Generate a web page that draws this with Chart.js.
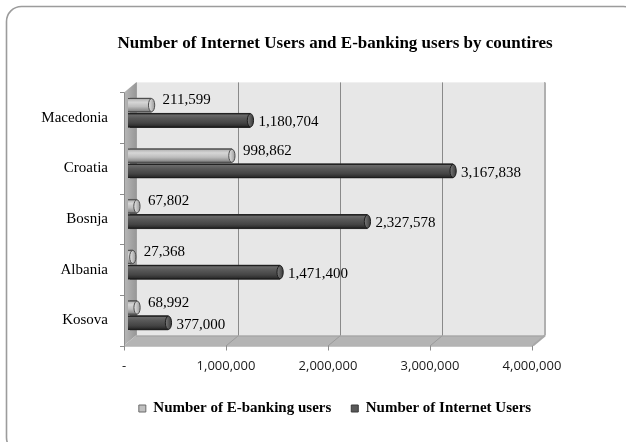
<!DOCTYPE html>
<html>
<head>
<meta charset="utf-8">
<script src="https://cdn.jsdelivr.net/npm/chart.js@4.4.1/dist/chart.umd.min.js"></script>
<style>
  html, body { margin: 0; padding: 0; background: #fff; }
</style>
</head>
<body>
<canvas id="users-chart" width="626" height="442"></canvas>
<script>
const countries = ['Macedonia', 'Croatia', 'Bosnja', 'Albania', 'Kosova'];
const ebankingUsers = [211599, 998862, 67802, 27368, 68992];
const internetUsers = [1180704, 3167838, 2327578, 1471400, 377000];
const axisTicks = [0, 1000000, 2000000, 3000000, 4000000];

// depth of the fake 3D box: front plane = bars - (DX, -DY), back wall = bars + (DX, -DY)
const DX = 6;
const DY = 5;

const CAT_FONT = '15px "Liberation Serif", serif';
const fmt = v => v.toLocaleString('en-US');

// category labels are mirrored so they are not clipped to the axis box;
// push them back left of the plot by the widest label
function widestLabel(font) {
  const c = document.createElement('canvas').getContext('2d');
  c.font = font;
  return Math.max(...countries.map(t => c.measureText(t).width));
}
const catWidest = widestLabel(CAT_FONT);

const SHADES = [
  { // light cylinders
    body: [[0, '#5e5e5e'], [0.1, '#b8b8b8'], [0.3, '#d6d6d6'], [0.6, '#bdbdbd'], [0.88, '#8c8c8c'], [1, '#505050']],
    cap: ['#e6e6e6', '#9a9a9a'],
    edge: '#4e4e4e',
    label: { dx: 11, dy: -5 }
  },
  { // dark cylinders
    body: [[0, '#262626'], [0.12, '#6a6a6a'], [0.35, '#585858'], [0.7, '#444444'], [0.9, '#2e2e2e'], [1, '#1c1c1c']],
    cap: ['#7a7a7a', '#3a3a3a'],
    edge: '#1e1e1e',
    label: { dx: 8, dy: 2 }
  }
];

function poly(ctx, pts, fill) {
  ctx.beginPath();
  ctx.moveTo(pts[0][0], pts[0][1]);
  for (let i = 1; i < pts.length; i++) ctx.lineTo(pts[i][0], pts[i][1]);
  ctx.closePath();
  ctx.fillStyle = fill;
  ctx.fill();
}

function line(ctx, x1, y1, x2, y2, color) {
  ctx.beginPath();
  ctx.moveTo(x1, y1);
  ctx.lineTo(x2, y2);
  ctx.strokeStyle = color;
  ctx.stroke();
}

const framePlugin = {
  id: 'frame',
  beforeDraw(chart) {
    const ctx = chart.ctx;
    ctx.save();
    ctx.fillStyle = '#fff';
    ctx.fillRect(0, 0, chart.width, chart.height);
    ctx.strokeStyle = '#9c9c9c';
    ctx.lineWidth = 1.6;
    ctx.beginPath();
    ctx.roundRect(6.5, 6.5, 632, 446, 15);
    ctx.stroke();
    ctx.restore();
  }
};

const boxPlugin = {
  id: 'box3d',
  beforeDatasetsDraw(chart) {
    const ctx = chart.ctx;
    const xs = chart.scales.x;
    const { top, bottom } = chart.chartArea;
    const x0 = xs.getPixelForValue(axisTicks[0]);
    const xN = xs.getPixelForValue(axisTicks[axisTicks.length - 1]);
    ctx.save();
    ctx.lineWidth = 1;

    // back wall
    ctx.fillStyle = '#e7e7e7';
    ctx.fillRect(x0 + DX, top - DY, xN - x0, bottom - top);

    // left wall
    const wall = ctx.createLinearGradient(x0 - DX, 0, x0 + DX, 0);
    wall.addColorStop(0, '#b8b8b8');
    wall.addColorStop(1, '#989898');
    poly(ctx, [[x0 - DX, top + DY], [x0 + DX, top - DY], [x0 + DX, bottom - DY], [x0 - DX, bottom + DY]], wall);

    // floor
    poly(ctx, [[x0 - DX, bottom + DY], [xN - DX, bottom + DY], [xN + DX, bottom - DY], [x0 + DX, bottom - DY]], '#b4b4b4');

    // gridlines on the back wall, carried down across the floor
    axisTicks.slice(1).forEach(v => {
      const px = Math.round(xs.getPixelForValue(v)) + 0.5;
      line(ctx, px + DX, top - DY, px + DX, bottom - DY, '#8a8a8a');
      line(ctx, px + DX, bottom - DY, px - DX, bottom + DY, '#9a9a9a');
    });

    // box edges
    line(ctx, x0 + DX + 0.5, top - DY, x0 + DX + 0.5, bottom - DY, '#a0a0a0');
    line(ctx, x0 + DX, bottom - DY + 0.5, xN + DX, bottom - DY + 0.5, '#a0a0a0');
    line(ctx, x0 - DX, bottom + DY + 0.5, xN - DX, bottom + DY + 0.5, '#8c8c8c');
    line(ctx, x0 - DX + 0.5, top + DY, x0 - DX + 0.5, bottom + DY, '#8c8c8c');
    ctx.lineWidth = 2;
    line(ctx, xN + DX + 1, top - DY, xN + DX + 1, bottom - DY, '#b0b0b0');
    line(ctx, xN + DX + 1, bottom - DY, xN - DX + 1, bottom + DY, '#a8a8a8');
    ctx.lineWidth = 1;

    // tick marks on the front of the box
    axisTicks.forEach(v => {
      const px = Math.round(xs.getPixelForValue(v) - DX) + 0.5;
      line(ctx, px, bottom + DY, px, bottom + DY + 5, '#8c8c8c');
    });
    const n = countries.length;
    for (let i = 0; i <= n; i++) {
      const yb = Math.round(top + (bottom - top) * i / n + DY) + 0.5;
      line(ctx, x0 - DX - 4, yb, x0 - DX, yb, '#8c8c8c');
    }
    ctx.restore();
  }
};

function drawCylinder(ctx, base, end, cy, h, shade) {
  const y1 = cy - h / 2;
  const rx = Math.max(2.5, h * 0.22);
  const g = ctx.createLinearGradient(0, y1, 0, y1 + h);
  shade.body.forEach(([o, c]) => g.addColorStop(o, c));
  ctx.fillStyle = g;
  ctx.fillRect(base, y1, end - base, h);
  ctx.lineWidth = 1;
  line(ctx, base, y1 + 0.5, end, y1 + 0.5, shade.edge);
  line(ctx, base, y1 + h - 0.5, end, y1 + h - 0.5, shade.edge);

  // rounded end cap
  const cg = ctx.createLinearGradient(end - rx, 0, end + rx, 0);
  cg.addColorStop(0, shade.cap[0]);
  cg.addColorStop(1, shade.cap[1]);
  ctx.beginPath();
  ctx.ellipse(end, cy, rx, h / 2 - 0.5, 0, 0, Math.PI * 2);
  ctx.fillStyle = cg;
  ctx.fill();
  ctx.strokeStyle = shade.edge;
  ctx.stroke();
}

const cylinderPlugin = {
  id: 'cylinders',
  afterDatasetsDraw(chart) {
    const ctx = chart.ctx;
    ctx.save();
    chart.data.datasets.forEach((ds, di) => {
      const shade = SHADES[di];
      chart.getDatasetMeta(di).data.forEach(bar => {
        const { x, y, base, height } = bar.getProps(['x', 'y', 'base', 'height'], true);
        drawCylinder(ctx, base - 2, x, y, height - 1, shade);
      });
    });

    // value labels next to each cylinder
    ctx.font = '15px "Liberation Serif", "Times New Roman", serif';
    ctx.fillStyle = '#000';
    ctx.textAlign = 'left';
    ctx.textBaseline = 'middle';
    chart.data.datasets.forEach((ds, di) => {
      const off = SHADES[di].label;
      chart.getDatasetMeta(di).data.forEach((bar, i) => {
        const { x, y } = bar.getProps(['x', 'y'], true);
        ctx.fillText(fmt(ds.data[i]), x + off.dx, y + off.dy);
      });
    });
    ctx.restore();
  }
};

new Chart(document.getElementById('users-chart'), {
  type: 'bar',
  data: {
    labels: countries,
    datasets: [
      {
        label: 'Number of E-banking users',
        data: ebankingUsers,
        backgroundColor: '#c0c0c0',
        borderColor: '#6a6a6a',
        borderWidth: 1,
        categoryPercentage: 0.6,
        barPercentage: 1
      },
      {
        label: 'Number of Internet Users',
        data: internetUsers,
        backgroundColor: '#595959',
        borderColor: '#3a3a3a',
        borderWidth: 1,
        categoryPercentage: 0.6,
        barPercentage: 1
      }
    ]
  },
  options: {
    indexAxis: 'y',
    responsive: false,
    animation: false,
    layout: { padding: { left: 44, right: 0, top: 0, bottom: 16 } },
    scales: {
      x: {
        type: 'linear',
        min: axisTicks[0],
        max: axisTicks[axisTicks.length - 1],
        afterBuildTicks: s => { s.ticks = axisTicks.map(v => ({ value: v })); },
        afterFit: s => { s.height = 40.5; },
        grid: { display: false, drawTicks: false },
        border: { display: false },
        ticks: {
          padding: 18,
          labelOffset: -DX,
          autoSkip: false,
          maxRotation: 0,
          color: '#1a1a1a',
          font: { family: '"Open Sans", sans-serif', size: 13 },
          callback: v => (v === 0 ? '-' : fmt(v))
        }
      },
      y: {
        type: 'category',
        afterFit: s => { s.width = 86; },
        grid: { display: false, drawTicks: false },
        border: { display: false },
        ticks: {
          mirror: true,
          crossAlign: 'far',
          padding: -(22 + catWidest),
          labelOffset: DY,
          color: '#000',
          font: { family: '"Liberation Serif", serif', size: 15 }
        }
      },
      edge: {
        type: 'linear',
        position: 'right',
        afterFit: s => { s.width = 88; },
        grid: { display: false, drawTicks: false },
        border: { display: false },
        ticks: { display: false }
      }
    },
    plugins: {
      title: {
        display: true,
        text: 'Number of Internet Users and E-banking users by countires',
        color: '#000',
        font: { family: '"Liberation Serif", serif', size: 17, weight: 'bold' },
        padding: { top: 33, bottom: 34 }
      },
      legend: {
        position: 'bottom',
        labels: {
          boxWidth: 7,
          boxHeight: 7,
          padding: 20,
          color: '#000',
          font: { family: '"Liberation Serif", serif', size: 15, weight: 'bold' }
        }
      },
      tooltip: { enabled: false }
    }
  },
  plugins: [framePlugin, boxPlugin, cylinderPlugin]
});
</script>
</body>
</html>
